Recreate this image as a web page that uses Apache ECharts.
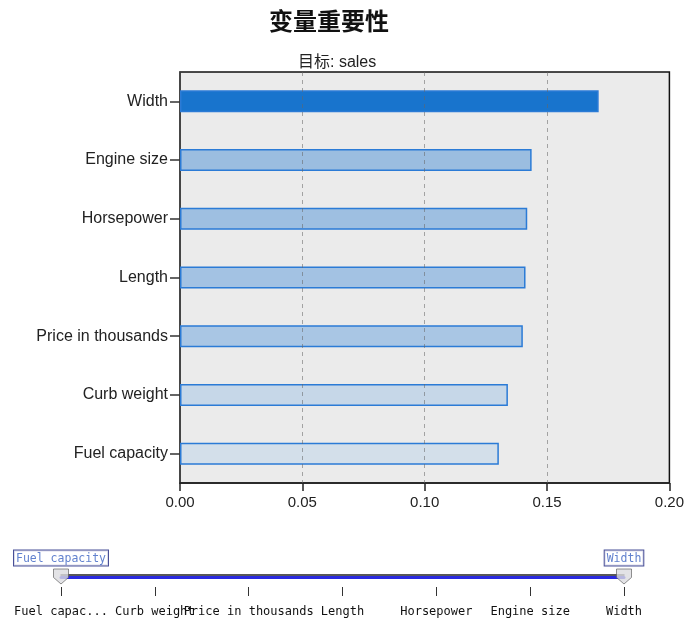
<!DOCTYPE html>
<html>
<head>
<meta charset="utf-8">
<script src="https://cdn.jsdelivr.net/npm/echarts@6/dist/echarts.min.js"></script>
<style>
html,body{margin:0;padding:0;background:#fff;}
#main{width:687px;height:619px;}
</style>
</head>
<body>
<div id="main"></div>
<script>
// Data
const categories = ['Width', 'Engine size', 'Horsepower', 'Length', 'Price in thousands', 'Curb weight', 'Fuel capacity'];
const importance = [0.1711, 0.1437, 0.1419, 0.1412, 0.1401, 0.1340, 0.1303];
const xTicks = [0, 0.05, 0.10, 0.15, 0.20];
const sliderCategories = ['Fuel capacity', 'Curb weight', 'Price in thousands', 'Length', 'Horsepower', 'Engine size', 'Width'];
const sliderLabels = ['Fuel capac...', 'Curb weight', 'Price in thousands', 'Length', 'Horsepower', 'Engine size', 'Width'];
const sliderRange = ['Fuel capacity', 'Width'];

// Styles
const barColors = ['#1874cd', '#9bbde0', '#9ebfe1', '#a3c2e3', '#a9c6e4', '#c6d7e8', '#d3dfea'];

const chart = echarts.init(document.getElementById('main'), null, {renderer: 'canvas'});
const sansFont = 'Liberation Sans, Arial, sans-serif';

const option = {
  animation: false,
  backgroundColor: '#ffffff',
  title: [
    {
      text: '变量重要性',
      left: 264, top: 4,
      textStyle: {fontFamily: 'Noto Sans CJK SC', fontWeight: 'bold', fontSize: 24, color: '#111'}
    },
    {
      text: '目标: sales',
      left: 293, top: 50,
      textStyle: {fontFamily: 'Liberation Sans, Noto Sans CJK SC', fontWeight: 'normal', fontSize: 16, color: '#222'}
    }
  ],
  grid: [
    {left: 180, right: 17, top: 72, bottom: 136, show: true, backgroundColor: '#ebebeb', borderColor: '#111', borderWidth: 1.5},
    {left: 61, right: 63, top: 545, bottom: 44.5, show: false}
  ],
  xAxis: [
    {
      gridIndex: 0, type: 'value', position: 'bottom', min: xTicks[0], max: xTicks[xTicks.length - 1], interval: 0.05,
      axisLine: {show: true, lineStyle: {color: '#222', width: 1.5}},
      axisTick: {show: true, length: 8, lineStyle: {color: '#222', width: 1.5}},
      axisLabel: {formatter: v => v.toFixed(2), fontFamily: sansFont, fontSize: 15, color: '#222', margin: 12},
      splitLine: {show: false}
    },
    {
      gridIndex: 1, type: 'category', position: 'bottom', data: sliderCategories, boundaryGap: false,
      axisLine: {show: true, lineStyle: {color: '#222', width: 1.5}},
      axisTick: {show: false}, axisLabel: {show: false}, splitLine: {show: false}
    },
    {
      gridIndex: 1, type: 'category', position: 'bottom', data: sliderCategories, boundaryGap: false, offset: 2.5,
      axisLine: {show: true, lineStyle: {color: '#2a2ae0', width: 3}},
      axisTick: {show: false}, axisLabel: {show: false}, splitLine: {show: false}
    },
    {
      gridIndex: 1, type: 'category', position: 'bottom', data: sliderCategories, boundaryGap: false, offset: 12.5,
      axisLine: {show: false},
      axisTick: {show: true, length: 9, lineStyle: {color: '#333', width: 1}},
      axisLabel: {show: true, interval: 0, margin: 19, fontFamily: 'DejaVu Sans Mono, monospace', fontSize: 12, color: '#111',
        formatter: (v, i) => sliderLabels[i]},
      splitLine: {show: false}
    }
  ],
  yAxis: [
    {
      gridIndex: 0, type: 'category', data: categories, inverse: true,
      axisLine: {show: true, lineStyle: {color: '#444', width: 1.5}},
      axisTick: {show: true, alignWithLabel: true, length: 10, lineStyle: {color: '#333', width: 1.5}},
      axisLabel: {fontFamily: sansFont, fontSize: 16, color: '#222', margin: 12},
      splitLine: {show: false}
    },
    {
      gridIndex: 1, type: 'value', min: 0, max: 1, show: false
    }
  ],
  series: [
    {
      type: 'bar', xAxisIndex: 0, yAxisIndex: 0, barWidth: 22,
      data: importance.map((v, i) => ({value: v, itemStyle: {color: barColors[i]}})),
      itemStyle: {borderColor: '#2b7bd6', borderWidth: 1.5},
      z: 3
    },
    {
      type: 'line', xAxisIndex: 0, yAxisIndex: 0, data: [], z: 5, silent: true,
      markLine: {
        silent: true, symbol: 'none', label: {show: false},
        lineStyle: {color: '#666', type: [4, 4], width: 1, opacity: 0.55},
        data: xTicks.slice(1, -1).map(v => ({xAxis: v}))
      }
    },
    {
      type: 'scatter', xAxisIndex: 1, yAxisIndex: 1,
      data: sliderRange.map(c => [c, 0]),
      symbol: 'path://M0,0 L16,0 L16,9 L8,16 L0,9 Z',
      symbolSize: [15, 15],
      symbolOffset: [0, 2],
      itemStyle: {color: '#dcdce0', borderColor: '#555', borderWidth: 0.8},
      label: {
        show: true, position: 'top', distance: 3,
        formatter: p => p.data[0],
        fontFamily: 'DejaVu Sans Mono, monospace', fontSize: 11.5, color: '#3a62c2',
        backgroundColor: '#fff', borderColor: '#1a237e', borderWidth: 1, padding: [2, 2, 1, 2]
      },
      z: 10
    }
  ]
};
chart.setOption(option);
</script>
</body>
</html>
